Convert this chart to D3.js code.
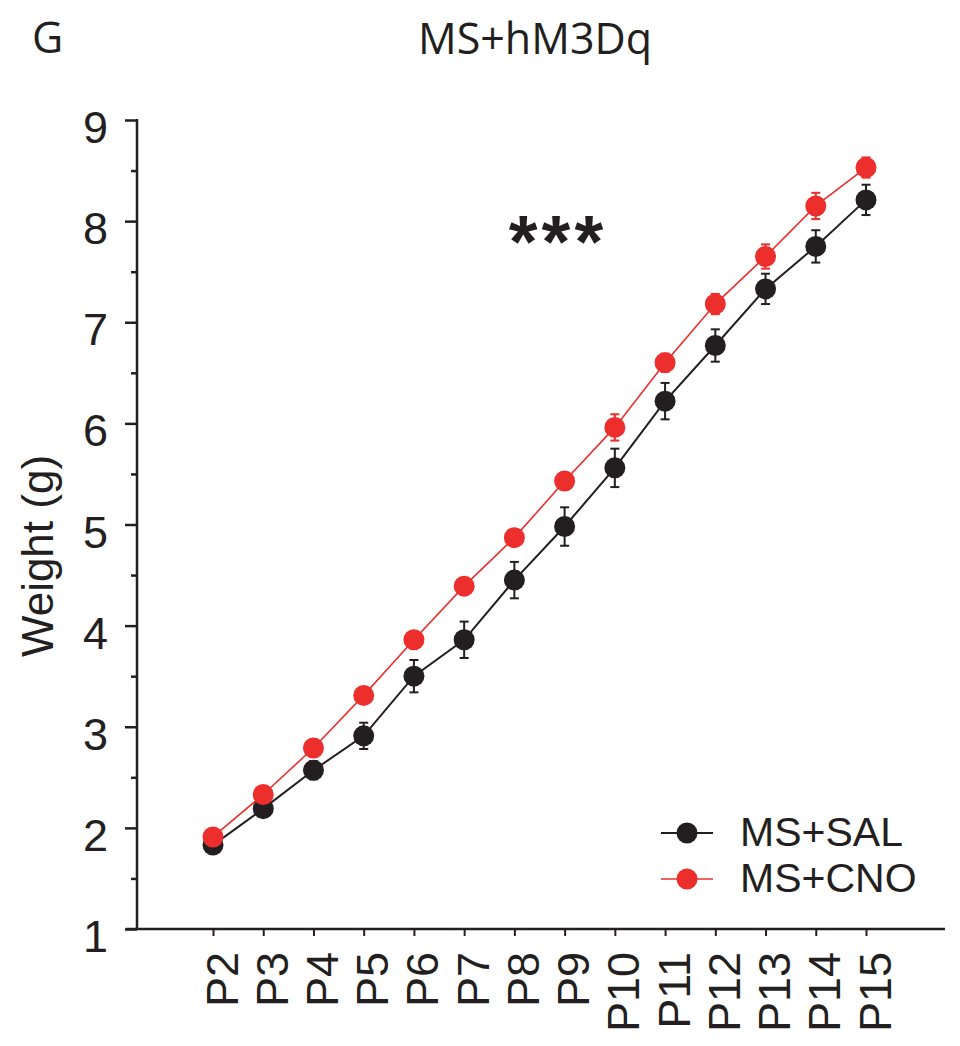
<!DOCTYPE html>
<html>
<head>
<meta charset="utf-8">
<script src="https://cdn.jsdelivr.net/npm/d3@7"></script>
<style>
  body { margin: 0; background: #fff; }
  svg { display: block; }
</style>
</head>
<body>
<div id="chart"></div>
<script>
var width = 960;
var height = 1046;

// data
var days = ["P2", "P3", "P4", "P5", "P6", "P7", "P8", "P9", "P10", "P11", "P12", "P13", "P14", "P15"];
var salMean = [1.83, 2.19, 2.57, 2.91, 3.50, 3.86, 4.45, 4.98, 5.56, 6.22, 6.77, 7.33, 7.75, 8.21];
var salSem  = [0.05, 0.07, 0.09, 0.13, 0.16, 0.18, 0.18, 0.19, 0.19, 0.18, 0.16, 0.15, 0.16, 0.15];
var cnoMean = [1.91, 2.33, 2.79, 3.31, 3.86, 4.39, 4.87, 5.43, 5.96, 6.60, 7.18, 7.65, 8.15, 8.53];
var cnoSem  = [0.05, 0.06, 0.07, 0.07, 0.07, 0.08, 0.07, 0.08, 0.13, 0.09, 0.10, 0.12, 0.13, 0.10];
var seriesNames = ["MS+SAL", "MS+CNO"];
var seriesColors = ["#231f20", "#ec2f2d"];
var yMajor = [1, 2, 3, 4, 5, 6, 7, 8, 9];
var yMinor = [1.5, 2.5, 3.5, 4.5, 5.5, 6.5, 7.5, 8.5];

var ink = "#231f20";
var tickFont = "'Liberation Sans', Arial, Helvetica, sans-serif";
var titleFont = "'Open Sans', 'Liberation Sans', sans-serif";

var series = [
  {name: seriesNames[0], color: seriesColors[0], width: 2, values: days.map(function(d, i){ return {day: d, m: salMean[i], e: salSem[i]}; })},
  {name: seriesNames[1], color: seriesColors[1], width: 1.6, values: days.map(function(d, i){ return {day: d, m: cnoMean[i], e: cnoSem[i]}; })}
];

var axisX = 137, axisY = 929;

var x = d3.scalePoint().domain(days).range([213, 866]);
var y = d3.scaleLinear().domain([1, 9]).range([axisY, 120]);

var svg = d3.select("#chart").append("svg")
  .attr("width", width)
  .attr("height", height);

// panel letter + title
svg.append("text")
  .attr("x", 32).attr("y", 53)
  .attr("font-family", titleFont).attr("font-size", 43)
  .attr("fill", ink)
  .text("G");

svg.append("text")
  .attr("x", 535).attr("y", 54)
  .attr("text-anchor", "middle")
  .attr("font-family", titleFont).attr("font-size", 43)
  .attr("fill", ink)
  .text("MS+hM3Dq");

// y axis
var yAxis = svg.append("g")
  .attr("transform", "translate(" + axisX + ",0)")
  .call(d3.axisLeft(y).tickValues(yMajor).tickSize(12).tickPadding(17).tickFormat(d3.format("d")));
yAxis.select(".domain").remove();
yAxis.selectAll(".tick line").attr("stroke", ink).attr("stroke-width", 2.5);
yAxis.selectAll(".tick text")
  .attr("font-family", tickFont).attr("font-size", 45)
  .attr("fill", ink).attr("dy", "0.5em");

var yMinorAxis = svg.append("g")
  .attr("transform", "translate(" + axisX + ",0)")
  .call(d3.axisLeft(y).tickValues(yMinor).tickSize(6).tickFormat(""));
yMinorAxis.select(".domain").remove();
yMinorAxis.selectAll(".tick line").attr("stroke", ink).attr("stroke-width", 2.5);

svg.append("line")
  .attr("x1", axisX).attr("x2", axisX)
  .attr("y1", y(9) - 1).attr("y2", axisY + 1)
  .attr("stroke", ink).attr("stroke-width", 2.5);

// x axis
var xAxis = svg.append("g")
  .attr("transform", "translate(0," + axisY + ")")
  .call(d3.axisBottom(x).tickSize(7));
xAxis.select(".domain").remove();
xAxis.selectAll(".tick line").attr("stroke", ink).attr("stroke-width", 2);
xAxis.selectAll(".tick text")
  .attr("font-family", tickFont).attr("font-size", 45)
  .attr("fill", ink)
  .attr("transform", "rotate(-90)")
  .attr("text-anchor", "end")
  .attr("x", -23).attr("y", 24).attr("dy", 0);

svg.append("line")
  .attr("x1", axisX - 11).attr("x2", 945)
  .attr("y1", axisY).attr("y2", axisY)
  .attr("stroke", ink).attr("stroke-width", 2.5);

// y label
svg.append("text")
  .attr("transform", "translate(53,556) rotate(-90)")
  .attr("text-anchor", "middle")
  .attr("font-family", tickFont).attr("font-size", 44)
  .attr("fill", ink)
  .text("Weight (g)");

// series
var line = d3.line()
  .x(function(d){ return x(d.day); })
  .y(function(d){ return y(d.m); });

var capW = 4.5;

series.forEach(function(s){
  var g = svg.append("g");

  g.append("path")
    .datum(s.values)
    .attr("fill", "none")
    .attr("stroke", s.color)
    .attr("stroke-width", s.width)
    .attr("d", line);

  var eb = g.selectAll(".err").data(s.values).join("g").attr("class", "err");
  eb.append("line")
    .attr("x1", function(d){ return x(d.day); })
    .attr("x2", function(d){ return x(d.day); })
    .attr("y1", function(d){ return y(d.m - d.e); })
    .attr("y2", function(d){ return y(d.m + d.e); })
    .attr("stroke", s.color).attr("stroke-width", 2);
  eb.append("line")
    .attr("x1", function(d){ return x(d.day) - capW; })
    .attr("x2", function(d){ return x(d.day) + capW; })
    .attr("y1", function(d){ return y(d.m + d.e); })
    .attr("y2", function(d){ return y(d.m + d.e); })
    .attr("stroke", s.color).attr("stroke-width", 2);
  eb.append("line")
    .attr("x1", function(d){ return x(d.day) - capW; })
    .attr("x2", function(d){ return x(d.day) + capW; })
    .attr("y1", function(d){ return y(d.m - d.e); })
    .attr("y2", function(d){ return y(d.m - d.e); })
    .attr("stroke", s.color).attr("stroke-width", 2);

  g.selectAll("circle").data(s.values).join("circle")
    .attr("cx", function(d){ return x(d.day); })
    .attr("cy", function(d){ return y(d.m); })
    .attr("r", 10.5)
    .attr("fill", s.color);
});

// significance
svg.append("text")
  .attr("x", 558).attr("y", 267)
  .attr("text-anchor", "middle")
  .attr("font-family", tickFont).attr("font-weight", "bold")
  .attr("font-size", 74)
  .attr("letter-spacing", 4)
  .attr("fill", ink)
  .text("***");

// legend
var legend = svg.append("g").attr("transform", "translate(661,833)");
var li = legend.selectAll("g").data(series).join("g")
  .attr("transform", function(d, i){ return "translate(0," + (i * 46) + ")"; });
li.append("line")
  .attr("x1", 0).attr("x2", 52)
  .attr("stroke", function(d){ return d.color; })
  .attr("stroke-width", function(d){ return d.width; });
li.append("circle")
  .attr("cx", 26).attr("r", 10.5)
  .attr("fill", function(d){ return d.color; });
li.append("text")
  .attr("x", 79).attr("y", 12.5)
  .attr("font-family", tickFont).attr("font-size", 41)
  .attr("fill", ink)
  .text(function(d){ return d.name; });
</script>
</body>
</html>
